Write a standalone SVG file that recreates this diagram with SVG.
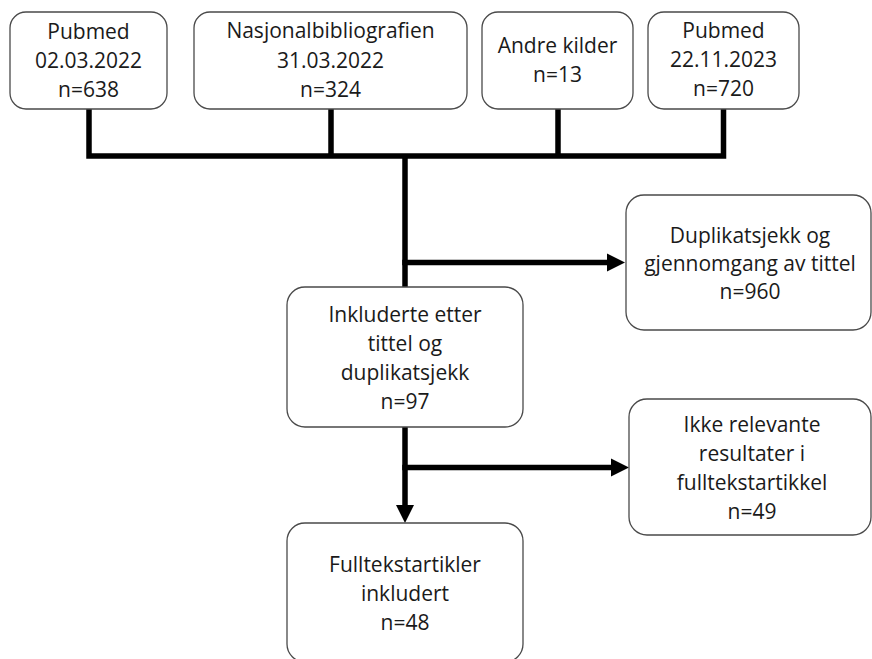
<svg xmlns="http://www.w3.org/2000/svg" width="872" height="659" viewBox="0 0 872 659">
<style>
.box{fill:#ffffff;stroke:#4a4a4a;stroke-width:1.3}
.t{font-family:"Open Sans","Liberation Sans",sans-serif;font-size:21px;fill:#1a1a1a;text-anchor:middle}
.ln{stroke:#000000;stroke-width:5.5;fill:none}
</style>
<defs>
<marker id="ah" markerUnits="userSpaceOnUse" markerWidth="19" markerHeight="19" refX="0" refY="9" orient="auto" overflow="visible">
<path d="M0,0 L18,9 L0,18 z" fill="#000000"/>
</marker>
</defs>
<rect width="872" height="659" fill="#ffffff"/>
<g id="connectors">
<path class="ln" d="M89,109 V156 M331,109 V156 M558,109 V156 M723.5,109 V156 M86.25,156 H726.25"/>
<path class="ln" d="M405,156 V288"/>
<path class="ln" d="M402.25,262.5 H607" marker-end="url(#ah)"/>
<path class="ln" d="M405,427 V505" marker-end="url(#ah)"/>
<path class="ln" d="M402.25,467.5 H611" marker-end="url(#ah)"/>
</g>
<g id="pubmed1">
<rect class="box" x="10" y="12" width="157" height="97" rx="16"/>
<text class="t" x="88.5" y="39">Pubmed</text>
<text class="t" x="88.5" y="68">02.03.2022</text>
<text class="t" x="88.5" y="97">n=638</text>
</g>
<g id="nasjonal">
<rect class="box" x="194" y="12" width="273" height="97" rx="16"/>
<text class="t" x="330.5" y="38">Nasjonalbibliografien</text>
<text class="t" x="330.5" y="68">31.03.2022</text>
<text class="t" x="330.5" y="97">n=324</text>
</g>
<g id="andre">
<rect class="box" x="482" y="12" width="151" height="97" rx="16"/>
<text class="t" x="557.5" y="53">Andre kilder</text>
<text class="t" x="557.5" y="82">n=13</text>
</g>
<g id="pubmed2">
<rect class="box" x="648" y="12" width="151" height="97" rx="16"/>
<text class="t" x="723.5" y="38">Pubmed</text>
<text class="t" x="723.5" y="67">22.11.2023</text>
<text class="t" x="723.5" y="96">n=720</text>
</g>
<g id="duplikat">
<rect class="box" x="626" y="195" width="245" height="135" rx="18"/>
<text class="t" x="750" y="243">Duplikatsjekk og</text>
<text class="t" x="750" y="271">gjennomgang av tittel</text>
<text class="t" x="750" y="299">n=960</text>
</g>
<g id="inkluderte">
<rect class="box" x="287" y="287" width="236" height="140" rx="18"/>
<text class="t" x="405" y="322">Inkluderte etter</text>
<text class="t" x="405" y="351">tittel og</text>
<text class="t" x="405" y="380">duplikatsjekk</text>
<text class="t" x="405" y="409">n=97</text>
</g>
<g id="ikkerelevante">
<rect class="box" x="629" y="399" width="242" height="136" rx="18"/>
<text class="t" x="752" y="432">Ikke relevante</text>
<text class="t" x="752" y="461">resultater i</text>
<text class="t" x="752" y="490">fulltekstartikkel</text>
<text class="t" x="752" y="519">n=49</text>
</g>
<g id="fulltekst">
<rect class="box" x="287" y="523" width="236" height="139" rx="18"/>
<text class="t" x="405" y="572">Fulltekstartikler</text>
<text class="t" x="405" y="601">inkludert</text>
<text class="t" x="405" y="630">n=48</text>
</g>
</svg>
